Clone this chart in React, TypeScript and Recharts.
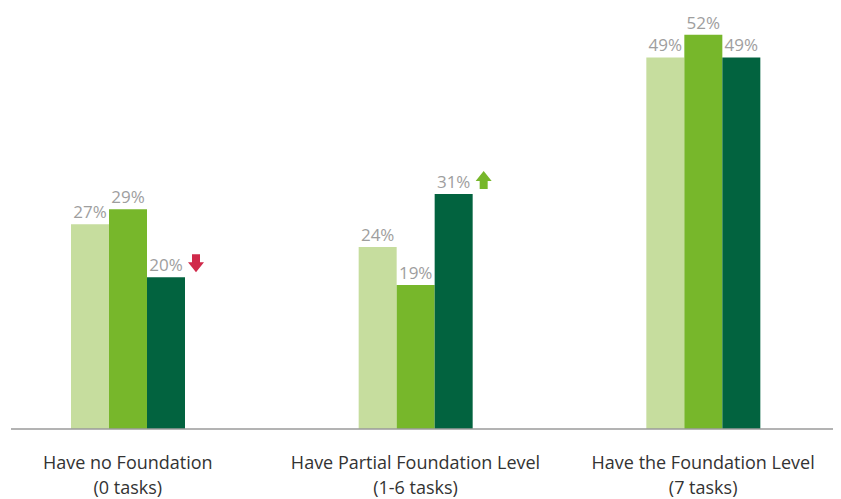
import { Bar, BarChart, LabelList, XAxis, YAxis } from "recharts"

const categories = ["Have no Foundation", "Have Partial Foundation Level", "Have the Foundation Level"]
const subLabels = ["(0 tasks)", "(1-6 tasks)", "(7 tasks)"]
const lightValues = [27, 24, 49]
const midValues = [29, 19, 52]
const darkValues = [20, 31, 49]
const darkTrend = ["down", "up", ""]

const data = categories.map((name, i) => ({
  name,
  sub: subLabels[i],
  light: lightValues[i],
  mid: midValues[i],
  dark: darkValues[i],
  trend: darkTrend[i],
}))

const FONT = "'Open Sans', sans-serif"
const LABEL_GREY = "#9e9e9e"

function CategoryTick(props: any) {
  const { x, y, payload, index } = props
  return (
    <text x={x} y={y} textAnchor="middle" fontFamily={FONT} fontSize={18} fill="#333">
      <tspan x={x} dy={32}>{payload.value}</tspan>
      <tspan x={x} dy={25}>{subLabels[index]}</tspan>
    </text>
  )
}

function plainLabel(props: any) {
  const { x, y, width, value } = props
  return (
    <text x={x + width / 2} y={y - 6} textAnchor="middle" fontFamily={FONT} fontSize={17} fill={LABEL_GREY}>
      {value}%
    </text>
  )
}

function trendLabel(props: any) {
  const { x, y, width, value, index } = props
  const cx = x + width / 2
  const ax = cx + 30
  const top = y - 23
  const trend = darkTrend[index]
  let arrow = null
  if (trend === "down") {
    const pts = [
      [ax - 4, top], [ax + 4, top], [ax + 4, top + 8], [ax + 8, top + 8],
      [ax, top + 18], [ax - 8, top + 8], [ax - 4, top + 8],
    ]
    arrow = <polygon points={pts.map((p) => p.join(",")).join(" ")} fill="#d0294a" />
  } else if (trend === "up") {
    const pts = [
      [ax, top], [ax + 8, top + 10], [ax + 4, top + 10], [ax + 4, top + 18],
      [ax - 4, top + 18], [ax - 4, top + 10], [ax - 8, top + 10],
    ]
    arrow = <polygon points={pts.map((p) => p.join(",")).join(" ")} fill="#77b72b" />
  }
  return (
    <g>
      <text x={cx} y={y - 6} textAnchor="middle" fontFamily={FONT} fontSize={17} fill={LABEL_GREY}>
        {value}%
      </text>
      {arrow}
    </g>
  )
}

export default function App() {
  return (
    <BarChart
      width={833}
      height={491}
      data={data}
      margin={{ top: 4, right: 0, bottom: 0, left: 3 }}
      barGap={0}
      barSize={38}
    >
      <XAxis
        dataKey="name"
        padding={{ left: -27, right: -6 }}
        axisLine={{ stroke: "#9a9a9a", strokeWidth: 1.5 }}
        tickLine={false}
        tick={<CategoryTick />}
        height={70}
        interval={0}
      />
      <YAxis hide domain={[0, 55]} />
      <Bar dataKey="light" fill="#c6dd9e" isAnimationActive={false}>
        <LabelList dataKey="light" content={plainLabel} />
      </Bar>
      <Bar dataKey="mid" fill="#77b72b" isAnimationActive={false}>
        <LabelList dataKey="mid" content={plainLabel} />
      </Bar>
      <Bar dataKey="dark" fill="#02633f" isAnimationActive={false}>
        <LabelList dataKey="dark" content={trendLabel} />
      </Bar>
    </BarChart>
  )
}
